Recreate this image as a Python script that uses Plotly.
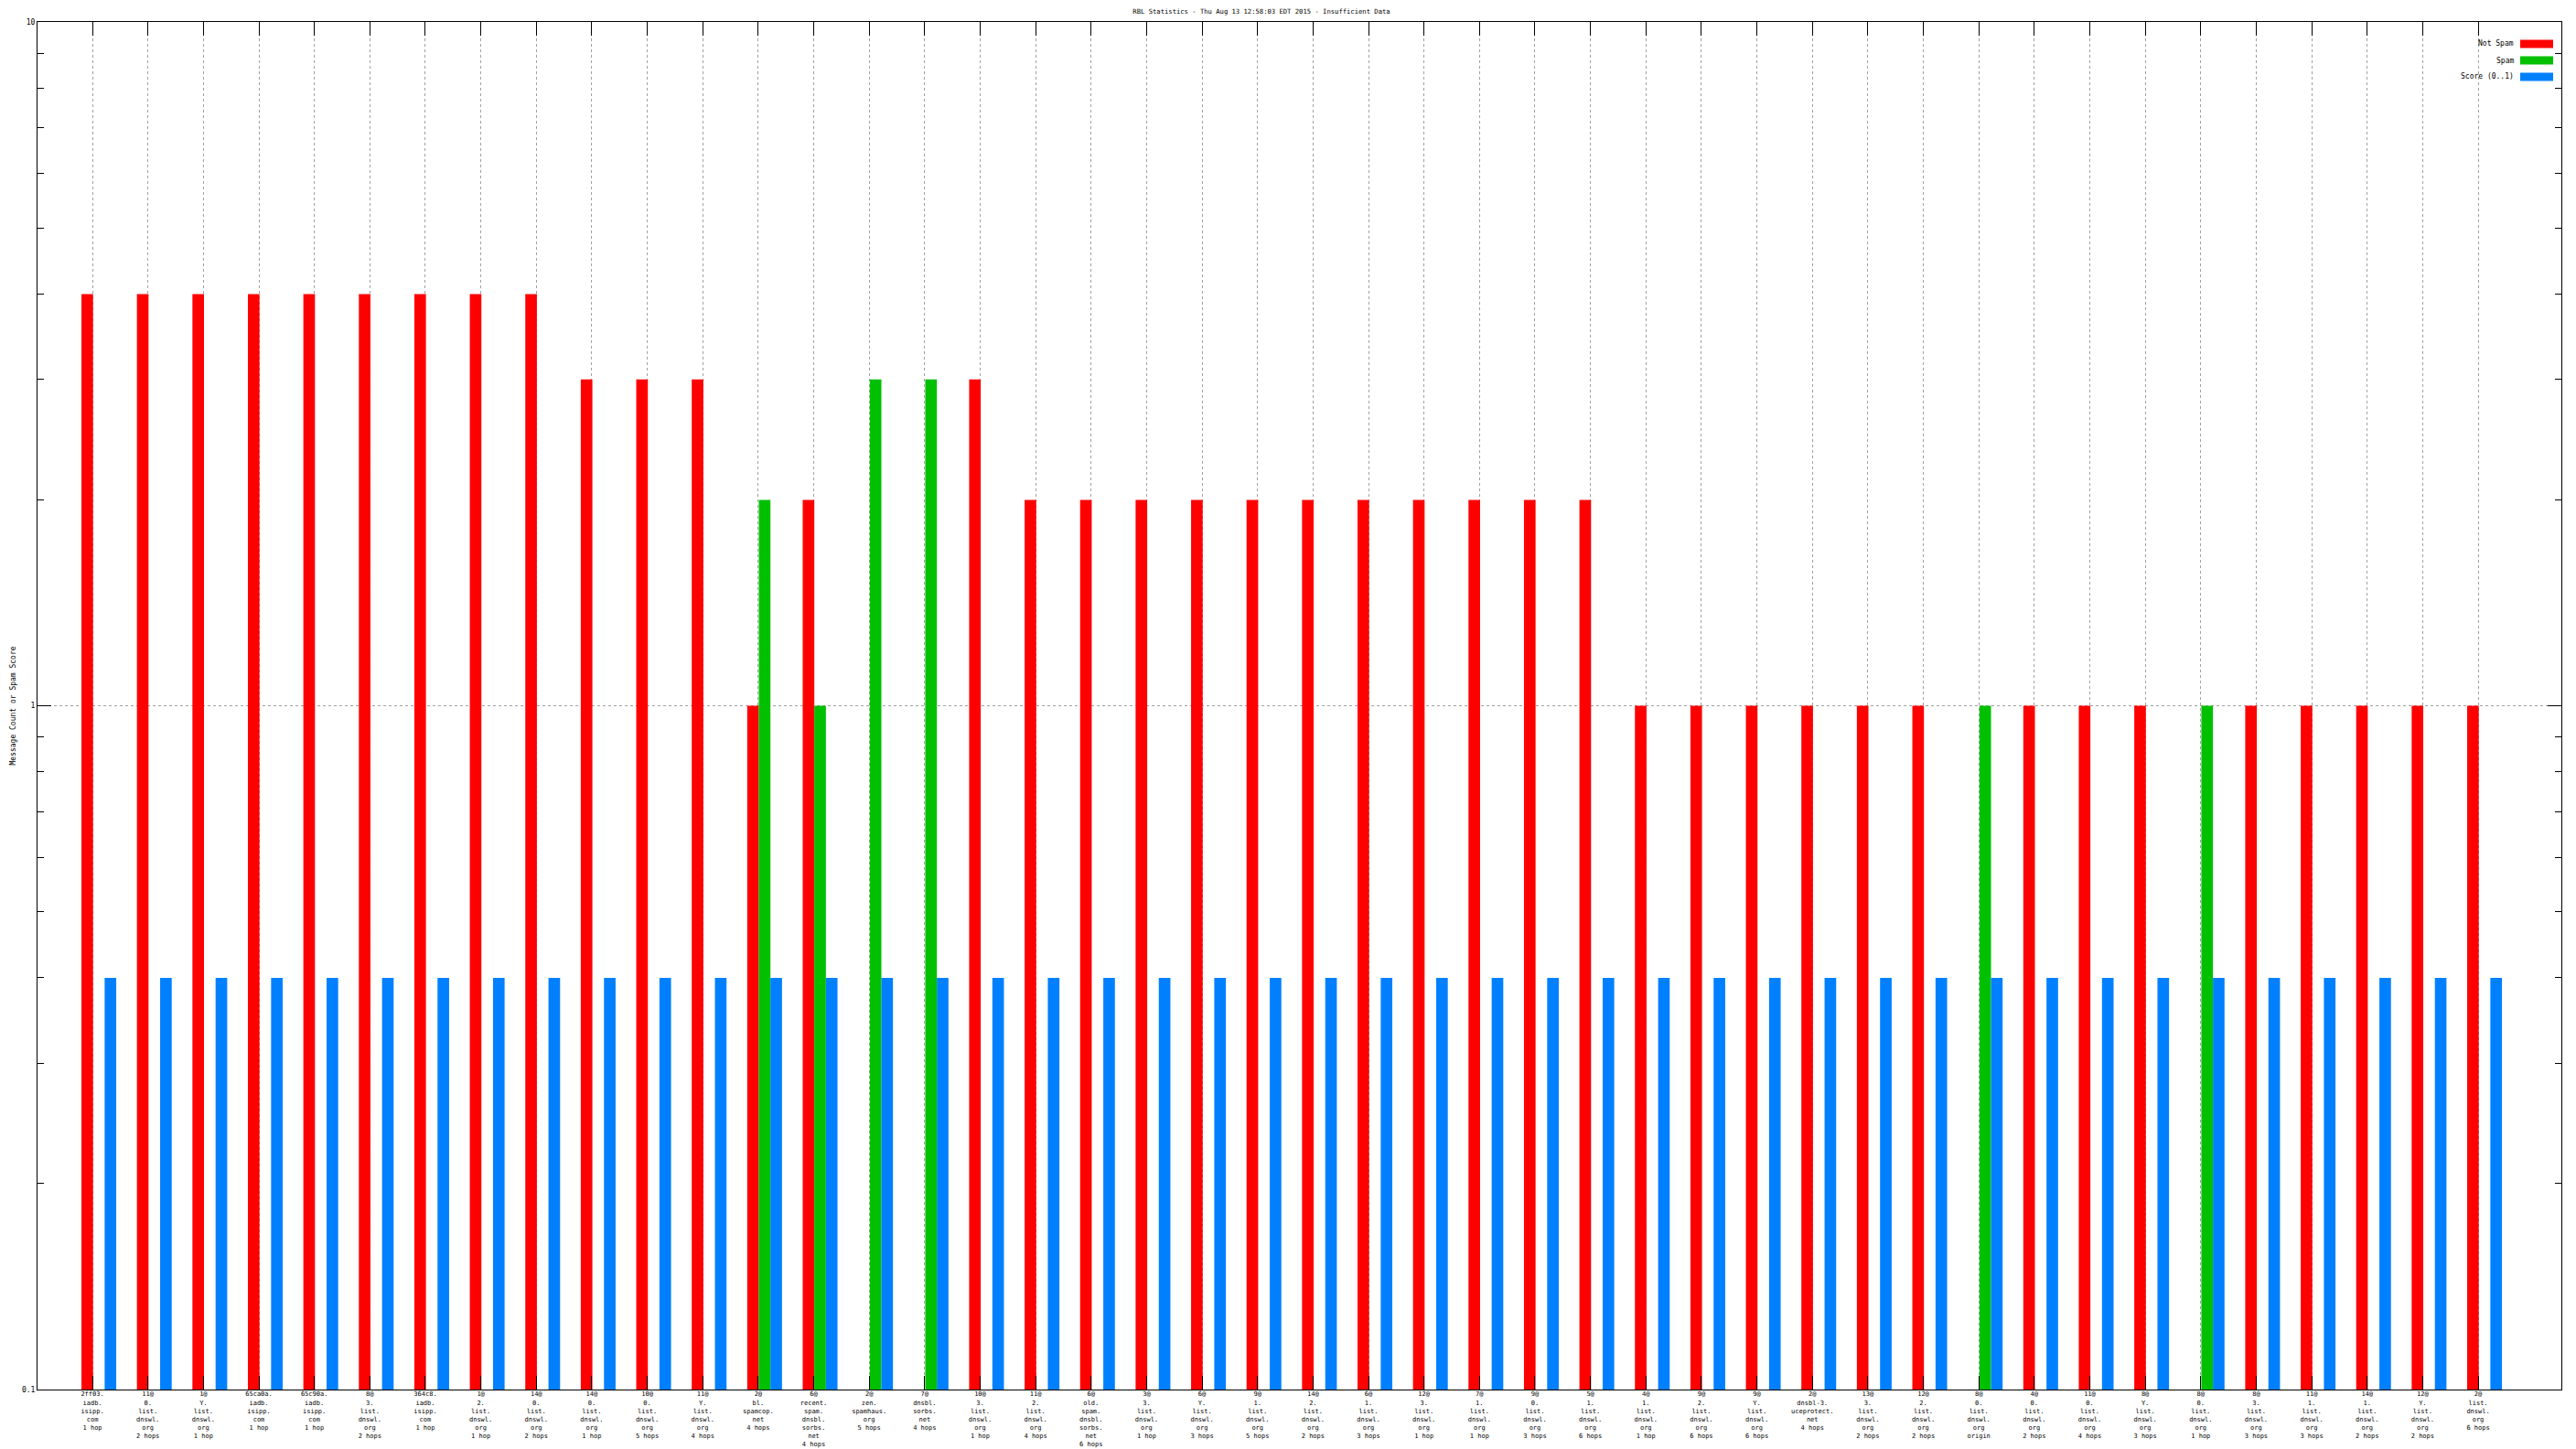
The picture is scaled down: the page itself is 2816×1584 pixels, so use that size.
import plotly.graph_objects as go

# ---------------- data ----------------
categories = [
    "2ff03.<br>iadb.<br>isipp.<br>com<br>1 hop",
    "11@<br>0.<br>list.<br>dnswl.<br>org<br>2 hops",
    "1@<br>Y.<br>list.<br>dnswl.<br>org<br>1 hop",
    "65ca0a.<br>iadb.<br>isipp.<br>com<br>1 hop",
    "65c90a.<br>iadb.<br>isipp.<br>com<br>1 hop",
    "8@<br>3.<br>list.<br>dnswl.<br>org<br>2 hops",
    "364c8.<br>iadb.<br>isipp.<br>com<br>1 hop",
    "1@<br>2.<br>list.<br>dnswl.<br>org<br>1 hop",
    "14@<br>0.<br>list.<br>dnswl.<br>org<br>2 hops",
    "14@<br>0.<br>list.<br>dnswl.<br>org<br>1 hop",
    "10@<br>0.<br>list.<br>dnswl.<br>org<br>5 hops",
    "11@<br>Y.<br>list.<br>dnswl.<br>org<br>4 hops",
    "2@<br>bl.<br>spamcop.<br>net<br>4 hops",
    "6@<br>recent.<br>spam.<br>dnsbl.<br>sorbs.<br>net<br>4 hops",
    "2@<br>zen.<br>spamhaus.<br>org<br>5 hops",
    "7@<br>dnsbl.<br>sorbs.<br>net<br>4 hops",
    "10@<br>3.<br>list.<br>dnswl.<br>org<br>1 hop",
    "11@<br>2.<br>list.<br>dnswl.<br>org<br>4 hops",
    "6@<br>old.<br>spam.<br>dnsbl.<br>sorbs.<br>net<br>6 hops",
    "3@<br>3.<br>list.<br>dnswl.<br>org<br>1 hop",
    "6@<br>Y.<br>list.<br>dnswl.<br>org<br>3 hops",
    "9@<br>1.<br>list.<br>dnswl.<br>org<br>5 hops",
    "14@<br>2.<br>list.<br>dnswl.<br>org<br>2 hops",
    "6@<br>1.<br>list.<br>dnswl.<br>org<br>3 hops",
    "12@<br>3.<br>list.<br>dnswl.<br>org<br>1 hop",
    "7@<br>1.<br>list.<br>dnswl.<br>org<br>1 hop",
    "9@<br>0.<br>list.<br>dnswl.<br>org<br>3 hops",
    "5@<br>1.<br>list.<br>dnswl.<br>org<br>6 hops",
    "4@<br>1.<br>list.<br>dnswl.<br>org<br>1 hop",
    "9@<br>2.<br>list.<br>dnswl.<br>org<br>6 hops",
    "9@<br>Y.<br>list.<br>dnswl.<br>org<br>6 hops",
    "2@<br>dnsbl-3.<br>uceprotect.<br>net<br>4 hops",
    "13@<br>3.<br>list.<br>dnswl.<br>org<br>2 hops",
    "12@<br>2.<br>list.<br>dnswl.<br>org<br>2 hops",
    "8@<br>0.<br>list.<br>dnswl.<br>org<br>origin",
    "4@<br>0.<br>list.<br>dnswl.<br>org<br>2 hops",
    "11@<br>0.<br>list.<br>dnswl.<br>org<br>4 hops",
    "8@<br>Y.<br>list.<br>dnswl.<br>org<br>3 hops",
    "8@<br>0.<br>list.<br>dnswl.<br>org<br>1 hop",
    "8@<br>3.<br>list.<br>dnswl.<br>org<br>3 hops",
    "11@<br>1.<br>list.<br>dnswl.<br>org<br>3 hops",
    "14@<br>1.<br>list.<br>dnswl.<br>org<br>2 hops",
    "12@<br>Y.<br>list.<br>dnswl.<br>org<br>2 hops",
    "2@<br>list.<br>dnswl.<br>org<br>6 hops",
]

not_spam = [4, 4, 4, 4, 4, 4, 4, 4, 4, 3, 3, 3, 1, 2, None, None, 3, 2, 2, 2, 2, 2,
            2, 2, 2, 2, 2, 2, 1, 1, 1, 1, 1, 1, None, 1, 1, 1, None, 1, 1, 1, 1, 1]
spam = [None] * 12 + [2, 1, 3, 3] + [None] * 18 + [1] + [None] * 3 + [1] + [None] * 5
score = [0.4] * 44

series_names = ["Not Spam", "Spam", "Score (0..1)"]
series_colors = ["#ff0000", "#00c000", "#0080ff"]

y_major = [0.1, 1, 10]
y_major_text = ["0.1", "1", "10"]
y_minor = [0.2, 0.3, 0.4, 0.5, 0.6, 0.7, 0.8, 0.9, 2, 3, 4, 5, 6, 7, 8, 9]

title_text = "RBL Statistics - Thu Aug 13 12:58:03 EDT 2015 - Insufficient Data"
y_title = "Message Count or Spam Score"

# ---------------- layout constants ----------------
# page body has an 8px margin; work in page pixels and convert
OFF = 8
W, H = 2816 - OFF, 1584 - OFF
PL, PR, PT, PB = 41, 2800, 24, 1519          # plot area in page pixels
ML, MT = PL - OFF, PT - OFF
MR = W - (PR - OFF)
MB = H - (PB - OFF)
PW, PH = PR - PL, PB - PT
FONT = "DejaVu Sans Mono"
BAR_W = 0.209
offsets = [-0.198, 0.011, 0.220]

idx = list(range(len(categories)))

fig = go.Figure()
for vals, name, col, off in zip([not_spam, spam, score], series_names, series_colors, offsets):
    fig.add_trace(go.Bar(
        x=idx, y=vals, name=name, marker=dict(color=col, line=dict(width=0)),
        width=BAR_W, offset=off, showlegend=False,
    ))


def px_x(p):
    return (p - PL) / PW


def px_y(p):
    return (PB - p) / PH


# custom legend (gnuplot style: text on the left, swatch at right)
legend_rows = [48, 66, 84]
shapes = []
annotations = []
for name, col, yy in zip(series_names, series_colors, legend_rows):
    shapes.append(dict(type="rect", xref="paper", yref="paper",
                       x0=px_x(2755), x1=px_x(2791), y0=px_y(yy + 4.5), y1=px_y(yy - 4.5),
                       fillcolor=col, line=dict(width=0)))
    annotations.append(dict(text=name, xref="paper", yref="paper", x=px_x(2750), y=px_y(yy),
                            xanchor="right", yanchor="middle", showarrow=False,
                            font=dict(family=FONT, size=8, color="black")))

annotations.append(dict(text=y_title, xref="paper", yref="paper", x=px_x(14), y=0.5,
                        xanchor="center", yanchor="middle", textangle=-90, showarrow=False,
                        font=dict(family=FONT, size=8, color="black")))

fig.update_layout(
    width=W, height=H,
    margin=dict(l=ML, r=MR, t=MT, b=MB, autoexpand=False),
    paper_bgcolor="white", plot_bgcolor="white",
    barmode="overlay",
    title=dict(text=title_text, x=(1379 - OFF) / W, xanchor="center",
               y=1 - (12 - OFF) / H, yanchor="middle",
               font=dict(family=FONT, size=7.2, color="black")),
    font=dict(family=FONT, size=8, color="black"),
    shapes=shapes, annotations=annotations,
    xaxis=dict(
        range=[-0.99, 44.5], tickmode="array", tickvals=idx, ticktext=categories,
        ticks="inside", ticklen=15, tickcolor="black", tickwidth=1,
        showline=True, linecolor="black", linewidth=1, mirror="ticks",
        showgrid=True, gridcolor="#a0a0a0", griddash="dot", gridwidth=1,
        tickangle=0, tickfont=dict(family=FONT, size=7, color="black"),
        ticklabelstandoff=-2,
        zeroline=False, automargin=False,
    ),
    yaxis=dict(
        type="log", range=[-1, 1], tickmode="array", tickvals=y_major, ticktext=y_major_text,
        ticks="inside", ticklen=15, tickcolor="black", tickwidth=1,
        showline=True, linecolor="black", linewidth=1, mirror="ticks",
        showgrid=True, gridcolor="#a0a0a0", griddash="dot", gridwidth=1,
        minor=dict(tickmode="array", tickvals=y_minor, ticks="inside", ticklen=7,
                   tickcolor="black", showgrid=False),
        tickfont=dict(family=FONT, size=8, color="black"),
        zeroline=False, automargin=False,
    ),
)

fig.write_html("out.html")
